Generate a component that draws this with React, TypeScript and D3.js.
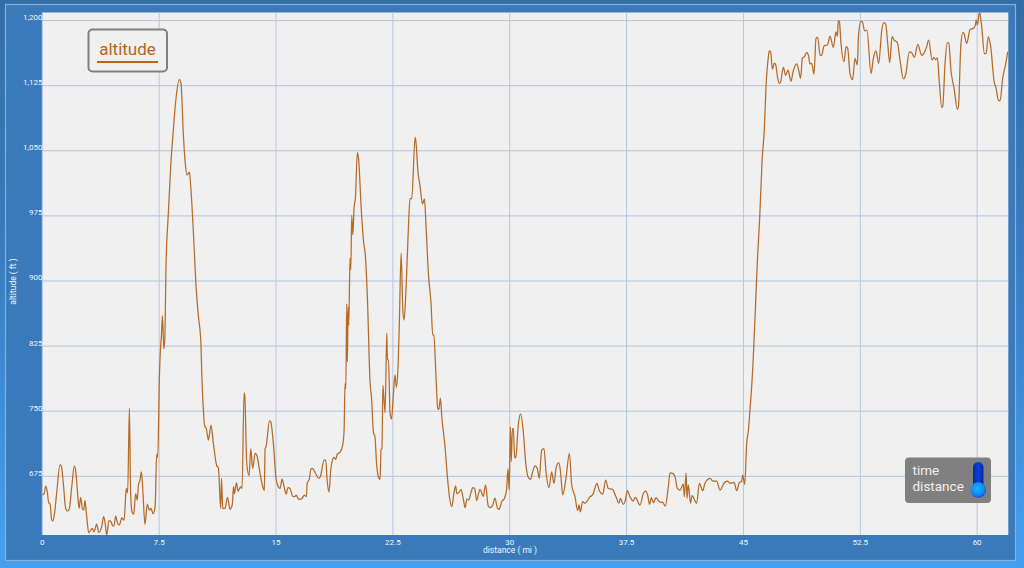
import React from "react";
import * as d3 from "d3";

const W = 1024;
const H = 568;
const xTicks = [0, 7.5, 15, 22.5, 30, 37.5, 45, 52.5, 60];
const yTicks = [675, 750, 825, 900, 975, 1050, 1125, 1200];
const seriesName = "altitude";
const xTitle = "distance ( mi )";
const yTitle = "altitude ( ft )";
const modes = ["time", "distance"];

// [distance in miles, altitude in feet]
const profile: [number, number][] = [
  [0,653.4],[0.13,655.3],[0.22,663.8],[0.32,657.3],[0.41,644.6],[0.5,643],[0.6,625.4],[0.67,623.5],[0.77,630.4],[0.92,655.3],
  [1.14,688.4],[1.22,686.8],[1.35,666.9],[1.5,638],[1.63,635],[1.74,638],[1.89,663],[2.06,687],[2.16,678.4],[2.25,659.2],
  [2.36,638],[2.46,650.7],[2.57,638],[2.66,636],[2.74,647],[2.85,628.5],[2.98,610],[3.11,613],[3.21,615],[3.32,611],
  [3.49,620],[3.62,610.4],[3.81,617],[3.94,628.5],[4.05,619],[4.13,607.3],[4.28,624],[4.41,622.7],[4.52,618],[4.6,618],
  [4.71,629],[4.82,621.6],[4.95,619],[5.1,627],[5.25,624.6],[5.37,657.3],[5.42,661],[5.48,656],[5.59,753.3],[5.67,655.3],
  [5.76,634],[5.87,631.5],[5.99,655],[6.1,647.7],[6.17,665],[6.27,670.7],[6.36,680],[6.44,663],[6.59,619.6],[6.74,643],
  [6.87,636],[6.98,638],[7.11,632],[7.24,640],[7.34,700.7],[7.41,696.8],[7.51,786],[7.6,826],[7.64,835],[7.71,860],
  [7.8,822],[7.86,832],[7.94,916],[8.09,978],[8.24,1031.7],[8.41,1074],[8.58,1110],[8.8,1132],[8.9,1127.7],[9.05,1070],
  [9.16,1039],[9.29,1022],[9.44,1025.5],[9.52,1010.6],[9.7,955],[9.87,893.5],[10.02,859],[10.17,832],[10.25,786],[10.34,751],
  [10.42,733],[10.53,730],[10.66,716.8],[10.83,734],[10.98,713],[11.2,687],[11.3,685],[11.45,638],[11.5,672.6],[11.58,638],
  [11.73,638],[11.88,650.7],[12.05,637],[12.2,643],[12.27,663],[12.33,655],[12.46,667.6],[12.56,658],[12.73,663],[12.82,661],
  [12.95,771],[13,767],[13.12,690],[13.27,675.7],[13.38,707],[13.5,684],[13.66,701.4],[13.76,699.5],[13.98,678],[14.15,663],
  [14.25,658.4],[14.3,707],[14.36,709],[14.58,739],[14.66,738],[14.83,713],[15,672.6],[15.15,663],[15.26,661],[15.39,671.9],
  [15.52,663],[15.65,654.6],[15.77,662],[15.9,661],[16.07,652],[16.2,651.5],[16.29,653.4],[16.44,648.8],[16.54,648.4],[16.69,650],
  [16.82,653.4],[16.95,651.5],[17,666.9],[17.14,672],[17.25,684],[17.35,684],[17.55,678],[17.76,672.6],[17.87,676],[18.08,693.7],
  [18.19,693.7],[18.29,668.8],[18.4,657],[18.51,682],[18.62,693.7],[18.72,696.8],[18.83,694.5],[18.94,700.7],[19.11,702.6],[19.28,711],
  [19.37,728],[19.43,782],[19.48,776],[19.54,874],[19.58,807],[19.63,870],[19.67,849],[19.75,926],[19.8,913],[19.86,976],
  [19.93,953],[20.01,984],[20.1,997],[20.22,1048],[20.31,1039],[20.44,993],[20.61,947],[20.74,928],[20.87,878],[21.03,786],
  [21.14,763],[21.25,726],[21.35,720.6],[21.46,688],[21.61,672.6],[21.68,671.5],[21.74,706],[21.8,707],[21.86,780],[22,748],
  [22.11,840],[22.15,809],[22.22,809],[22.32,748],[22.41,741],[22.54,771],[22.64,792],[22.73,777.6],[22.84,805],[22.92,855],
  [23.03,932],[23.14,866.6],[23.22,855],[23.35,893.5],[23.5,962.6],[23.6,995],[23.71,995],[23.93,1065.6],[23.99,1058.6],[24.1,1028],
  [24.25,1008.7],[24.4,988.8],[24.53,994.5],[24.63,962.6],[24.78,909],[24.95,874],[25.06,838],[25.13,838],[25.25,797.5],[25.38,753],
  [25.45,752],[25.55,765],[25.64,743.7],[25.85,709],[26,674.5],[26.13,651.5],[26.28,640],[26.43,657],[26.53,664],[26.6,655],
  [26.77,657],[26.88,660],[27.03,647.7],[27.15,638.8],[27.24,648.8],[27.37,647.7],[27.5,655.3],[27.63,662],[27.75,661],[27.88,647],
  [28,655],[28.09,660],[28.3,652],[28.45,665],[28.62,640.8],[28.73,639],[28.9,641],[29.05,650],[29.22,638],[29.33,637],
  [29.5,646.6],[29.63,648.5],[29.8,660],[29.89,684],[29.97,659],[30.04,732],[30.1,692],[30.17,730],[30.23,730],[30.32,696],
  [30.4,697.6],[30.55,734],[30.7,746.8],[30.87,726.4],[31.04,688],[31.19,673.8],[31.34,671.5],[31.47,680],[31.62,687],[31.77,684],
  [31.9,672.7],[32.05,705.3],[32.2,707],[32.33,680],[32.52,662],[32.69,680],[32.84,667],[32.97,684],[33.14,690.7],[33.25,682],
  [33.4,653.5],[33.61,672.7],[33.83,701.5],[33.98,665],[34.19,651.5],[34.36,635.4],[34.45,642],[34.53,634],[34.68,645.8],[34.83,644],
  [35.15,651.5],[35.32,653.5],[35.6,667],[35.75,658.4],[35.97,654.6],[36.16,670.7],[36.33,661],[36.59,660],[36.82,651.5],[37.01,644],
  [37.1,649.6],[37.29,642.7],[37.4,645.8],[37.55,658.4],[37.72,651.5],[37.93,646.6],[38.06,650.8],[38.36,642],[38.58,655.4],[38.73,658],
  [38.85,653.5],[38.98,642.7],[39.09,650.4],[39.22,644.6],[39.39,650.4],[39.6,645.8],[39.82,645],[39.99,640.8],[40.18,663],[40.29,679],
  [40.46,678.4],[40.61,674.6],[40.76,661],[40.93,659],[41.14,666],[41.21,651.5],[41.32,679],[41.38,649.6],[41.46,665],[41.61,644],
  [41.7,652.7],[42,644],[42.17,667],[42.39,658.4],[42.53,667],[42.86,672.7],[43.03,669.6],[43.28,669.6],[43.5,659],[43.75,667],
  [43.97,669.6],[44.14,667],[44.4,668],[44.57,658.4],[44.74,668],[44.89,669],[44.95,676.5],[45.08,665.7],[45.21,713],[45.32,728],
  [45.42,751.4],[45.47,763],[45.6,800],[45.75,860],[45.9,925],[46.05,975],[46.2,1040],[46.34,1074],[46.45,1124],[46.6,1158],
  [46.66,1165],[46.75,1164],[46.86,1144],[46.98,1151],[47.07,1149],[47.2,1133.5],[47.3,1127.7],[47.39,1129.6],[47.56,1146],[47.71,1137],
  [47.86,1143],[48.05,1130],[48.2,1142],[48.42,1150],[48.57,1141],[48.67,1133.5],[48.78,1156.5],[48.91,1158.4],[49.06,1163.4],[49.17,1160],
  [49.27,1150],[49.38,1150.7],[49.53,1138.4],[49.66,1179.5],[49.77,1180.7],[49.92,1160],[50.02,1160],[50.17,1170.7],[50.39,1171.9],[50.56,1182],
  [50.77,1169],[50.94,1187],[51.03,1182],[51.09,1200],[51.16,1198.7],[51.26,1173.8],[51.46,1152.7],[51.59,1170],[51.69,1168],[51.84,1139],
  [52.01,1132],[52.16,1156.5],[52.31,1148.8],[52.38,1181.5],[52.53,1198.7],[52.63,1198.7],[52.78,1188],[52.93,1189],[53.19,1139],[53.34,1156.5],
  [53.51,1165],[53.68,1150.7],[53.88,1189],[54,1197.6],[54.13,1196],[54.26,1173.8],[54.39,1151.5],[54.54,1181.5],[54.67,1177.6],[54.88,1174.5],
  [55.05,1154.6],[55.27,1132.7],[55.42,1138.4],[55.65,1164],[55.8,1163],[55.97,1157.7],[56.19,1172.6],[56.44,1160],[56.55,1161.5],[56.76,1170],
  [56.89,1177.6],[57.11,1154.6],[57.23,1157.7],[57.34,1155],[57.45,1157],[57.56,1131.5],[57.73,1100],[57.79,1100.8],[57.94,1150.7],[58.09,1174.5],
  [58.18,1173.8],[58.33,1141],[58.52,1122],[58.73,1097.7],[58.8,1100.8],[58.95,1170],[59.08,1186.4],[59.16,1185],[59.33,1173.8],[59.55,1190],
  [59.76,1191],[59.89,1195],[59.93,1200.7],[60.02,1195],[60.15,1210],[60.27,1197],[60.47,1162],[60.57,1162],[60.72,1181.5],[60.87,1170],
  [61.09,1129.6],[61.22,1122],[61.37,1107.7],[61.47,1107.7],[61.64,1133.5],[61.84,1150.7],[61.96,1164],
];

const x = d3.scaleLinear().domain([0, 62]).range([42.3, 1008.3]);
const y = d3.scaleLinear().domain([607.4, 1209.3]).range([535, 12.5]);
const line = d3.line<[number, number]>().x((d) => x(d[0])).y((d) => y(d[1])).curve(d3.curveMonotoneX);
const fmt = d3.format(",");
const FONT = "Roboto, sans-serif";
const LINE = "#b4661f";

export default function App() {
  return (
    <svg width={W} height={H} style={{ position: "fixed", left: 0, top: 0, display: "block" }}>
      <defs>
        <linearGradient id="outer" x1="0" y1="0" x2="0" y2="1">
          <stop offset="0" stopColor="#336da6" />
          <stop offset="0.45" stopColor="#3a7cc0" />
          <stop offset="1" stopColor="#45a0f2" />
        </linearGradient>
        <linearGradient id="tube" x1="0" y1="0" x2="1" y2="0">
          <stop offset="0" stopColor="#0a2a9c" />
          <stop offset="0.5" stopColor="#0b3fd8" />
          <stop offset="1" stopColor="#0a2a9c" />
        </linearGradient>
        <radialGradient id="bulb" cx="0.45" cy="0.4" r="0.6">
          <stop offset="0" stopColor="#14b4ff" />
          <stop offset="0.7" stopColor="#0f8cf5" />
          <stop offset="1" stopColor="#0a50d0" />
        </radialGradient>
        <clipPath id="plot">
          <rect x={42.3} y={12.5} width={966} height={522.5} />
        </clipPath>
      </defs>
      <rect width={W} height={H} fill="url(#outer)" />
      <rect x={5.5} y={4.5} width={1010} height={556} fill="#3a7abb" stroke="#86b0d8" strokeWidth={1.2} />
      <rect x={42.3} y={12.5} width={966} height={522.5} fill="#f0f0f0" />
      {xTicks.map((t) => (
        <line key={t} x1={x(t)} x2={x(t)} y1={12.5} y2={535} stroke="#b4c6e0" strokeWidth={1} />
      ))}
      {yTicks.map((t) => (
        <line key={t} x1={42.3} x2={1008.3} y1={y(t)} y2={y(t)} stroke="#b0c4e2" strokeWidth={1} />
      ))}
      <path d={line(profile) ?? ""} fill="none" stroke="#b56a26" strokeWidth={1.25} clipPath="url(#plot)" />
      {xTicks.map((t) => (
        <text key={t} x={x(t)} y={544.5} fontFamily={FONT} fontSize={8} fill="#f2f6fb" textAnchor="middle">
          {t}
        </text>
      ))}
      {yTicks.map((t) => (
        <text key={t} x={42.5} y={y(t) - 0.5} fontFamily={FONT} fontSize={8} fill="#f2f6fb" textAnchor="end">
          {fmt(t)}
        </text>
      ))}
      <text x={510} y={553} fontFamily={FONT} fontSize={8.5} fill="#f2f6fb" textAnchor="middle">
        {xTitle}
      </text>
      <text transform="translate(16,281.5) rotate(-90)" fontFamily={FONT} fontSize={8.5} fill="#f2f6fb" textAnchor="middle">
        {yTitle}
      </text>
      <rect x={88.5} y={29.5} width={78.5} height={42} rx={4} fill="#f0f0f0" stroke="#808080" strokeWidth={2} />
      <text x={127.5} y={55} fontFamily={FONT} fontSize={17} fill={LINE} textAnchor="middle">
        {seriesName}
      </text>
      <line x1={97} x2={158} y1={62} y2={62} stroke={LINE} strokeWidth={2} />
      <rect x={905} y={457.5} width={86} height={45.5} rx={4} fill="#808080" />
      {modes.map((m, i) => (
        <text key={m} x={912.5} y={474.5 + i * 16} fontFamily={FONT} fontSize={13.5} fill="#f0f0f0">
          {m}
        </text>
      ))}
      <rect x={973} y={462} width={10.5} height={32} rx={5.2} fill="url(#tube)" />
      <circle cx={978.3} cy={490} r={7.8} fill="url(#bulb)" />
    </svg>
  );
}
